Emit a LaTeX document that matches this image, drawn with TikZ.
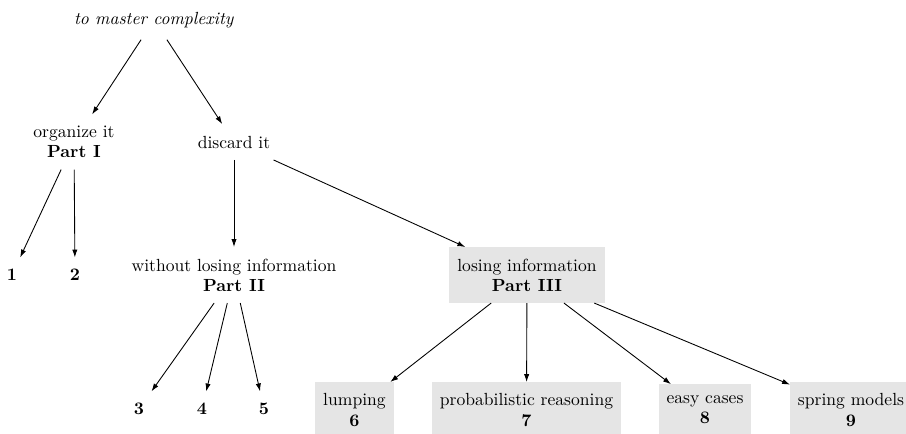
\documentclass[tikz,border=0pt]{standalone}
\usepackage{tikz}
\usetikzlibrary{arrows.meta}
\tikzset{
topic/.style={align=center,font=\fontsize{10}{11.4}\selectfont,inner xsep=4.5pt,inner ysep=6.7pt,outer sep=0pt},
partbox/.style={topic,fill=black!10},
arr/.style={-{Latex[length=4.5pt,width=3pt]},line width=0.5pt}
}

\begin{document}
\begin{tikzpicture}[x=0.2mm,y=-0.2mm]
\useasboundingbox (0,0) rectangle (906,433);
% the question
\node[topic] (top) at (154,20) {\textit{to master complexity}};
\node[topic] (organize) at (74,142) {organize it\\\textbf{Part I}};
\node[topic] (discard) at (234,142) {discard it};
% second level
\node[topic] (one) at (12,275) {\textbf{1}};
\node[topic] (two) at (75,275) {\textbf{2}};
\node[topic] (noloss) at (234,275) {without losing information\\\textbf{Part II}};
\node[partbox] (loss) at (527,275) {losing information\\\textbf{Part III}};
% chapters
\node[topic] (three) at (139,409) {\textbf{3}};
\node[topic] (four) at (202,409) {\textbf{4}};
\node[topic] (five) at (264,409) {\textbf{5}};
\node[partbox] (lump) at (354.5,410) {lumping\\\textbf{6}};
\node[partbox] (prob) at (526.5,410) {probabilistic reasoning\\\textbf{7}};
\node[partbox] (easy) at (705,410) {easy cases\\\textbf{8}};
\node[partbox] (spring) at (851,410) {spring models\\\textbf{9}};

\foreach \a/\b in {top/organize,top/discard,organize/one,organize/two,
  discard/noloss,discard/loss,noloss/three,noloss/four,noloss/five,
  loss/lump,loss/prob,loss/easy,loss/spring}
  \draw[arr] (\a) -- (\b);
\end{tikzpicture}
\end{document}
